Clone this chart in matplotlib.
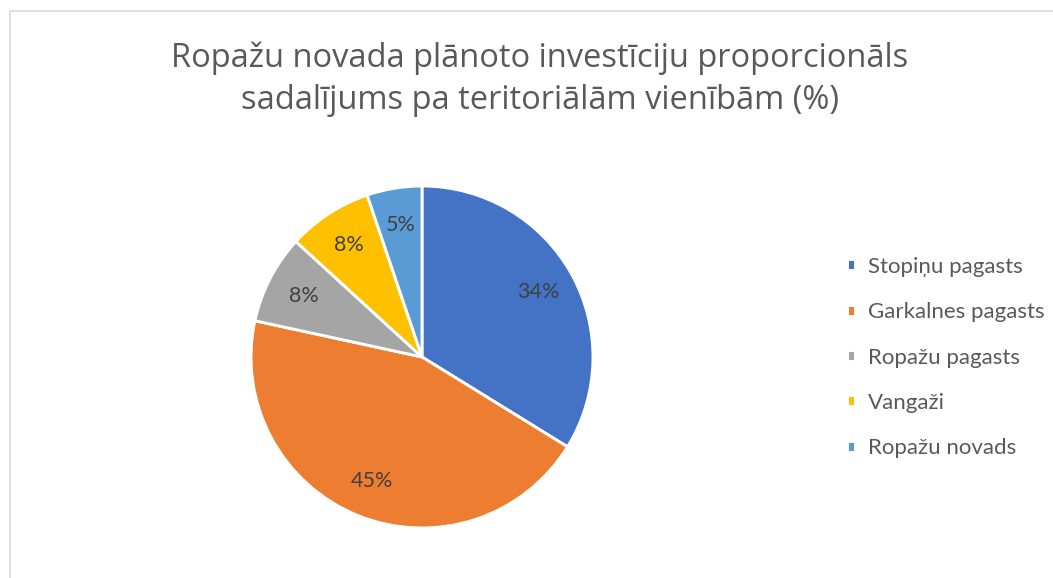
import matplotlib
matplotlib.use("Agg")
import matplotlib.pyplot as plt
from matplotlib.patches import Rectangle

title = "Ropažu novada plānoto investīciju proporcionāls\nsadalījums pa teritoriālām vienībām (%)"
categories = ["Stopiņu pagasts", "Garkalnes pagasts", "Ropažu pagasts", "Vangaži", "Ropažu novads"]
values = [33.8, 44.6, 8.4, 8.0, 5.2]
colors = ["#4472C4", "#ED7D31", "#A5A5A5", "#FFC000", "#5B9BD5"]

FONT = "Lato"
W, H = 1053, 578
fig = plt.figure(figsize=(W / 100, H / 100), dpi=100)
fig.patches.append(Rectangle((10 / W, -0.1), 1.2, (H - 11) / H + 0.1, transform=fig.transFigure,
                             fill=False, edgecolor="#D9D9D9", linewidth=1.2))

cx, cy, r = 422, 357, 171
ax = fig.add_axes([(cx - r) / W, (H - cy - r) / H, 2 * r / W, 2 * r / H])
wedges, texts, autotexts = ax.pie(values, colors=colors, startangle=90, counterclock=False,
                                  autopct="%.0f%%", pctdistance=0.78, radius=1,
                                  wedgeprops=dict(edgecolor="white", linewidth=2.1),
                                  textprops=dict(fontsize=15.5, color="#404040", family=FONT))
ax.set_xlim(-1, 1)
ax.set_ylim(-1, 1)
ax.set_aspect("equal")
ax.axis("off")

fig.text(540 / W, 1 - 79.5 / H, title, ha="center", va="center", fontsize=23.5, color="#595959",
         family="Open Sans", linespacing=1.36)

leg = fig.legend(wedges, categories, loc="center left", bbox_to_anchor=(827 / W, 1 - 357.5 / H),
                 frameon=False, prop=dict(family=FONT, size=16), labelcolor="#595959",
                 handlelength=0.38, handleheight=0.38, handletextpad=0.55, labelspacing=1.14)

fig.savefig("out.png", dpi=100)
